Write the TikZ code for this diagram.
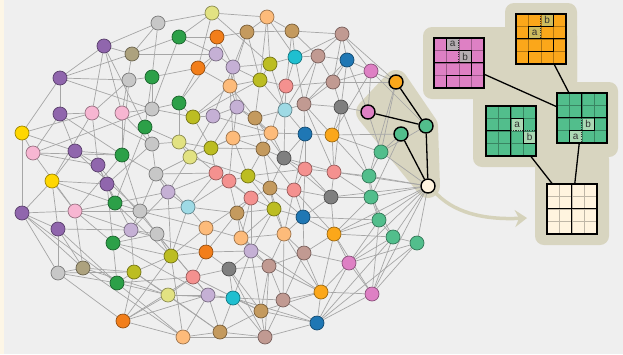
\documentclass[tikz,border=0pt]{standalone}
\usepackage{fontspec}
\setsansfont{Liberation Sans}
\usetikzlibrary{arrows.meta}
\pgfdeclarelayer{bg}\pgfdeclarelayer{edges}\pgfsetlayers{bg,edges,main}
\definecolor{bgc}{HTML}{EFEFEF}
\definecolor{stripc}{HTML}{FDF6E6}
\definecolor{tanc}{HTML}{D8D5C0}
\definecolor{arrc}{HTML}{D5D2BA}
\definecolor{edgec}{HTML}{A6A6A6}
\definecolor{cPu}{HTML}{9066AD}
\definecolor{cLa}{HTML}{C5B0D5}
\definecolor{cDG}{HTML}{2CA048}
\definecolor{cMG}{HTML}{52BE8C}
\definecolor{cGr}{HTML}{C7C7C7}
\definecolor{cDGr}{HTML}{7F7F7F}
\definecolor{cYe}{HTML}{FFD700}
\definecolor{cLY}{HTML}{E2E282}
\definecolor{cYG}{HTML}{BCBD22}
\definecolor{cLP}{HTML}{F7B6D2}
\definecolor{cMa}{HTML}{DE80C4}
\definecolor{cSa}{HTML}{F4918F}
\definecolor{cPe}{HTML}{FDBB7A}
\definecolor{cOr}{HTML}{F27E1A}
\definecolor{cAm}{HTML}{FBA71A}
\definecolor{cBr}{HTML}{C49A5E}
\definecolor{cRo}{HTML}{C19A92}
\definecolor{cKh}{HTML}{ADA27E}
\definecolor{cBl}{HTML}{1F77B4}
\definecolor{cCy}{HTML}{1FBFD0}
\definecolor{cLB}{HTML}{9EDAE5}
\definecolor{cCr}{HTML}{FFF4DF}
\definecolor{labP}{HTML}{B5ADB2}
\definecolor{labO}{HTML}{CDBB5E}
\definecolor{labG}{HTML}{ABD8B4}
\tikzset{
  nd/.style={circle, minimum size=14pt, inner sep=0pt, line width=0.7pt, fill=#1, draw=#1!62!black},
  hn/.style={circle, minimum size=14pt, inner sep=0pt, fill=#1, draw=black, line width=1.4pt},
  gedge/.style={draw=edgec, line width=0.7pt},
  bedge/.style={draw=black, line width=1.3pt},
  gbox/.style={rectangle, minimum size=50pt, inner sep=0pt, draw=none},
  thk/.style={draw=black, line width=1.3pt, line cap=round, line join=round},
  outer/.style={draw=black, line width=1.5pt},
  dsh/.style={draw=black!80, line width=0.8pt, dash pattern=on 1.2pt off 1.1pt},
  lab/.style={font=\sffamily\fontsize{10}{10}\selectfont, text=black!80, inner sep=0pt}
}
\newcommand\thingrid[1]{\foreach \i in {1,2,3}{\draw[#1, line width=0.4pt] (\i,0)--(\i,4) (0,\i)--(4,\i);}}
\begin{document}
\begin{tikzpicture}[x=1pt,y=-1pt]
\useasboundingbox (0,0) rectangle (623,354);
% ---------- network nodes ----------
\foreach \n/\c/\x/\y in {
n1/cGr/158/23, n2/cLY/212/13, n3/cDG/179/37, n4/cOr/217/37, n5/cPu/104/46,
n6/cKh/132/54, n7/cLa/216/54, n8/cOr/198/68, n9/cPu/60/78, n10/cGr/129/80,
n11/cDG/152/77, n12/cDG/179/103, n13/cPu/60/114, n14/cLP/92/113, n15/cLP/122/113,
n16/cGr/152/109, n17/cYG/193/117, n18/cLa/213/116, n19/cYe/22/133, n20/cDG/145/127,
n21/cGr/152/144, n22/cLY/179/142, n23/cYG/211/148, n24/cLP/33/153, n25/cPu/75/151,
n26/cDG/122/155, n27/cLY/190/157, n28/cPu/98/165, n29/cGr/156/174, n30/cYe/52/181,
n31/cSa/216/173, n32/cPu/107/184, n33/cPu/22/213, n34/cLP/75/211, n35/cDG/115/203,
n36/cGr/140/211, n37/cLa/168/192, n38/cLB/188/207, n39/cPu/58/229, n40/cLa/131/230,
n41/cGr/157/234, n42/cPe/206/228, n43/cDG/113/243, n44/cYG/171/256, n45/cOr/206/252,
n46/cGr/58/273, n47/cKh/83/268, n48/cYG/134/272, n49/cDG/117/283, n50/cSa/193/277,
n51/cLY/168/295, n52/cLa/208/295, n53/cOr/123/321, n54/cPe/183/337, n55/cBr/220/332,
n56/cPe/267/17, n57/cBr/247/32, n58/cBr/292/31, n59/cRo/342/34, n60/cLa/233/67,
n61/cYG/270/64, n62/cCy/295/57, n63/cRo/318/56, n64/cBl/347/60, n65/cMa/371/71,
n66/cPe/230/86, n67/cYG/260/80, n68/cSa/286/86, n69/cRo/333/82, n70/cLa/237/107,
n71/cBr/255/118, n72/cLB/285/110, n73/cRo/304/104, n74/cDGr/341/107, n75/cPe/271/133,
n76/cPe/233/138, n77/cBl/305/134, n78/cAm/332/135, n79/cBr/263/149, n80/cDGr/284/158,
n81/cMG/381/152, n82/cSa/229/181, n83/cYG/248/176, n84/cSa/305/169, n85/cSa/334/172,
n86/cMG/369/176, n87/cSa/251/198, n88/cBr/270/188, n89/cSa/294/190, n90/cDGr/331/197,
n91/cMG/371/197, n92/cBr/237/213, n93/cYG/274/209, n94/cBl/303/217, n95/cMG/379/220,
n96/cPe/241/238, n97/cPe/284/234, n98/cAm/334/234, n99/cMG/393/237, n100/cMG/417/243,
n101/cLa/251/251, n102/cRo/304/253, n103/cDGr/229/269, n104/cRo/269/266, n105/cMa/349/263,
n106/cCy/233/298, n107/cRo/283/300, n108/cAm/321/292, n109/cMa/372/294, n110/cBr/261/311,
n111/cBl/317/323, n113/cRo/265/337}
  {\node[nd=\c] (\n) at (\x,\y) {};}
% highlighted nodes
\node[hn=cAm] (H1) at (396,82) {};
\node[hn=cMa] (H2) at (368,112) {};
\node[hn=cMG] (H3) at (426,126) {};
\node[hn=cMG] (H4) at (401,134) {};
\node[hn=cCr] (H5) at (428,186) {};
% ---------- grids ----------
\node[gbox] (gP) at (459,63) {};
\node[gbox] (gO) at (541,39) {};
\node[gbox] (gGL) at (511,131) {};
\node[gbox] (gGR) at (582,118) {};
\node[gbox] (gC) at (572,209) {};
% pink
\begin{scope}[shift={(gP.north west)}, x=12.5pt, y=-12.5pt]
  \fill[cMa] (0,0) rectangle (4,4);
  \fill[labP] (1,0) rectangle (2,1) (2,1) rectangle (3,2);
  \thingrid{cMa!70!black}
  \draw[dsh] (2,0)--(2,2);
  \node[lab] at (1.5,0.5) {a}; \node[lab] at (2.5,1.5) {b};
  \draw[thk] (1,0)--(1,1)--(3,1)--(3,2) (0,2)--(4,2) (3,2)--(3,3)--(1,3)--(1,4);
  \draw[outer] (0,0) rectangle (4,4);
\end{scope}
% orange
\begin{scope}[shift={(gO.north west)}, x=12.5pt, y=-12.5pt]
  \fill[cAm] (0,0) rectangle (4,4);
  \fill[labO] (2,0) rectangle (3,1) (1,1) rectangle (2,2);
  \thingrid{cAm!70!black}
  \draw[dsh] (2,0)--(2,2);
  \node[lab] at (2.5,0.5) {b}; \node[lab] at (1.5,1.5) {a};
  \draw[thk] (3,0)--(3,1)--(1,1)--(1,2) (0,2)--(4,2) (3,2)--(3,3)--(1,3)--(1,4);
  \draw[outer] (0,0) rectangle (4,4);
\end{scope}
% green left
\begin{scope}[shift={(gGL.north west)}, x=12.5pt, y=-12.5pt]
  \fill[cMG] (0,0) rectangle (4,4);
  \fill[labG] (2,1) rectangle (3,2) (3,2) rectangle (4,3);
  \thingrid{cMG!70!black}
  \draw[dsh] (2,2)--(4,2);
  \node[lab] at (2.5,1.5) {a}; \node[lab] at (3.5,2.5) {b};
  \draw[thk] (2,0)--(2,4) (0,2)--(2,2) (2,1)--(3,1)--(3,3)--(4,3);
  \draw[outer] (0,0) rectangle (4,4);
\end{scope}
% green right
\begin{scope}[shift={(gGR.north west)}, x=12.5pt, y=-12.5pt]
  \fill[cMG] (0,0) rectangle (4,4);
  \fill[labG] (2,2) rectangle (3,3) (1,3) rectangle (2,4);
  \thingrid{cMG!70!black}
  \draw[dsh] (2,2)--(2,4);
  \node[lab] at (2.5,2.5) {b}; \node[lab] at (1.5,3.5) {a};
  \draw[thk] (2,0)--(2,2) (0,2)--(4,2) (3,2)--(3,3)--(1,3)--(1,4);
  \draw[outer] (0,0) rectangle (4,4);
\end{scope}
% cream
\begin{scope}[shift={(gC.north west)}, x=12.5pt, y=-12.5pt]
  \fill[cCr] (0,0) rectangle (4,4);
  \thingrid{cCr!75!black}
  \draw[thk] (2,0)--(2,4) (0,2)--(4,2);
  \draw[outer] (0,0) rectangle (4,4);
\end{scope}
\coordinate (arrEnd) at (527,218);
% ---------- background layer ----------
\begin{pgfonlayer}{bg}
  \fill[bgc] (0,0) rectangle (623,354);
  \fill[stripc] (0,0) rectangle (4,354);
  \filldraw[tanc, line width=24pt, line join=round] (H2.center)--(H1.center)--(H3.center)--(H5.center)--cycle;
  \fill[tanc, rounded corners=9pt] (505,3) rectangle (577,90);
  \fill[tanc, rounded corners=9pt] (423,27) rectangle (577,99);
  \fill[tanc, rounded corners=9pt] (473,82) rectangle (618,157);
  \fill[tanc, rounded corners=9pt] (473,82) rectangle (547,167);
  \fill[tanc, rounded corners=9pt] (535,150) rectangle (609,245);
  \draw[arrc, line width=3.5pt, -{Stealth[length=12pt,width=17pt,inset=4pt]}]
     (H5.-40) .. controls (452,212) and (482,220) .. (arrEnd);
\end{pgfonlayer}
% ---------- edges ----------
\begin{pgfonlayer}{edges}
\foreach \a/\b in {
n1/n2, n1/n5, n1/n6, n1/n11, n2/n3, n2/n8, n2/n56, n3/n6, n3/n4, n3/n16,
n4/n57, n4/n7, n5/n6, n5/n9, n5/n14, n5/n15, n6/n9, n6/n7, n6/n15,
n7/n8, n7/n60, n7/n12, n8/n11, n8/n12, n8/n66, n9/n10, n9/n13, n9/n19,
n10/n11, n10/n14, n10/n26, n11/n16, n11/n20, n12/n16, n12/n17, n12/n22,
n13/n14, n13/n25, n13/n24, n14/n28, n14/n30, n15/n16, n15/n26, n15/n21,
n16/n17, n16/n24, n17/n18, n17/n23, n17/n67, n18/n60, n18/n70, n18/n27,
n19/n24, n19/n33, n19/n25, n20/n21, n20/n22, n20/n35, n21/n22, n21/n29, n21/n32,
n22/n23, n22/n27, n22/n31, n23/n76, n23/n27, n23/n31, n24/n28, n24/n34,
n25/n26, n25/n30, n25/n28, n26/n29, n26/n36, n26/n34, n27/n29, n27/n37, n27/n76,
n28/n32, n28/n35, n29/n37, n29/n36, n29/n38, n30/n33, n30/n34, n30/n39, n30/n32,
n31/n82, n31/n38, n31/n87, n32/n35, n32/n40, n33/n34, n33/n39, n33/n46, n33/n47,
n34/n35, n34/n36, n34/n47, n34/n43, n35/n36, n35/n37, n36/n40, n36/n41, n36/n38,
n37/n38, n37/n40, n37/n44, n38/n42, n38/n44, n38/n82, n38/n92,
n39/n46, n39/n40, n39/n47, n40/n41, n40/n43, n40/n48, n41/n44, n41/n50,
n42/n45, n42/n44, n42/n96, n42/n87, n43/n44, n43/n49, n43/n52,
n44/n45, n44/n48, n44/n53, n45/n101, n45/n50, n46/n47, n46/n53, n46/n49,
n47/n48, n47/n54, n48/n49, n48/n51, n48/n53, n49/n51, n49/n54,
n50/n51, n50/n52, n50/n103, n51/n52, n51/n55, n52/n55, n52/n106, n52/n54, n53/n52,
n53/n54, n54/n55, n54/n113, n55/n113, n55/n106, n55/n110,
n56/n57, n56/n61, n56/n58, n56/n67, n57/n58, n57/n60, n57/n66,
n58/n59, n58/n62, n58/n63, n59/n64, n59/n65, n59/n63, n59/n69,
n60/n61, n60/n66, n60/n70, n61/n62, n61/n67, n61/n72, n62/n63, n62/n68, n62/n73,
n63/n64, n63/n73, n63/n69, n64/n65, n64/n69, n64/n74, n65/H1, n65/n69, n65/n78,
n66/n67, n66/n70, n66/n76, n67/n68, n67/n71, n67/n72, n68/n69, n68/n72, n68/n75,
n69/n74, n69/n73, n69/H1, n70/n71, n70/n76, n70/n23, n71/n72, n71/n75, n71/n79,
n72/n73, n72/n77, n72/n80, n73/n74, n73/n77, n73/n85, n74/H2, n74/n78, n74/n86,
n75/n76, n75/n77, n75/n79, n76/n79, n76/n82, n77/n78, n77/n80, n77/n84,
n78/H4, n78/n85, n78/n81, n79/n80, n79/n83, n79/n89, n80/n84, n80/n88, n80/n90,
n81/n86, n81/H2, n81/H3, n82/n83, n82/n87, n82/n92, n83/n84, n83/n88, n83/n93,
n84/n85, n84/n89, n84/n94, n85/n86, n85/n90, n85/n91, n86/n91, n86/H5, n86/n95,
H1/n59, H1/n81, H1/n86, H2/n65, H2/n64, H3/n65, H4/n81, H4/n91,
H5/n81, H5/n91, H5/n95, H5/n99, H5/n100, H5/n85, H5/n90, H5/n98, H5/n105, H5/n109,
n87/n88, n87/n92, n87/n96, n87/n93, n88/n89, n88/n93, n88/n94,
n89/n90, n89/n94, n89/n97, n90/n91, n90/n98, n90/n94, n91/n95, n91/n98, n91/n99,
n92/n93, n92/n96, n92/n101, n92/n45, n93/n94, n93/n97, n93/n101,
n94/n102, n94/n97, n94/n95, n95/n99, n95/n105, n95/n109,
n96/n101, n96/n97, n96/n104, n96/n108, n97/n104, n97/n102, n97/n108,
n98/n99, n98/n105, n98/n108, n98/n102, n99/n100, n99/n105, n99/n111,
n100/n109, n100/n111, n101/n103, n101/n104, n101/n106,
n102/n104, n102/n105, n102/n107, n103/n106, n103/n104, n103/n110,
n104/n110, n104/n107, n104/n108, n105/n108, n105/n109,
n106/n107, n106/n113, n106/n110, n107/n108, n107/n111, n107/n113,
n108/n111, n108/n109, n109/n111, n110/n111, n110/n113, n111/n113,
n5/n20, n9/n16, n13/n26, n14/n21, n19/n14, n24/n26, n25/n36, n28/n41, n30/n35,
n32/n43, n33/n49, n34/n40, n39/n49, n46/n48, n47/n51, n53/n51, n53/n50, n49/n50,
n43/n41, n35/n44, n36/n42, n40/n45, n41/n52, n44/n54, n48/n55, n51/n106, n50/n110,
n45/n103, n37/n31, n29/n31, n27/n83, n23/n79, n18/n75, n17/n66, n3/n7, n4/n60,
n2/n61, n56/n62, n57/n67, n58/n68, n59/n62, n64/n73, n63/n72, n60/n67, n66/n71,
n70/n75, n71/n80, n75/n80, n76/n83, n79/n88, n80/n85, n84/n90, n77/n89, n73/n78,
n74/n85, n78/n86, n87/n101, n88/n97, n89/n98, n93/n96, n94/n98, n97/n107,
n102/n108, n104/n113, n106/n111, n110/n108, n101/n110, n103/n113, n105/n111,
n109/n98, n99/n109, n100/n105, n95/n98}
  {\draw[gedge] (\a) -- (\b);}
% highlighted black edges
\draw[bedge] (H1) -- (H3);
\draw[bedge] (H2) -- (H3);
\draw[bedge] (H3) -- (H5);
\draw[bedge] (H4) -- (H5);
% grid edges
\draw[bedge] (gP) -- (gGR);
\draw[bedge] (gO) -- (gGR);
\draw[bedge] (gGL) -- (gC);
\draw[bedge] (gGR) -- (gC);
\end{pgfonlayer}
\end{tikzpicture}
\end{document}
